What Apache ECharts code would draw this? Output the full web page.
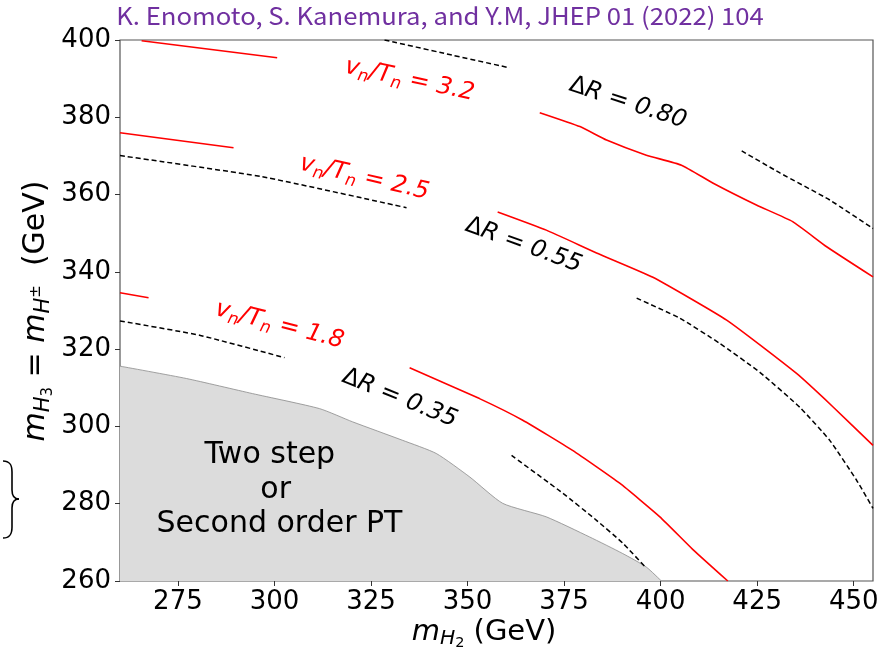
<!DOCTYPE html>
<html><head><meta charset="utf-8">
<script src="https://cdn.jsdelivr.net/npm/echarts@6/dist/echarts.min.js"></script>
<style>html,body{margin:0;padding:0;background:#fff}#c{width:884px;height:652px}</style>
</head><body><div id="c"></div><script>
// ---- data ----
const xTicks = [275, 300, 325, 350, 375, 400, 425, 450];
const yTicks = [260, 280, 300, 320, 340, 360, 380, 400];

// v_n/T_n contours (red, solid) - split by inline labels
const red32a = [[265.6, 399.8], [300.7, 395.4]];
const red32b = [[368.7, 381.2], [379.1, 377.6], [386.0, 374.1], [396.3, 370.2], [405.4, 367.6], [413.5, 363.0], [424.8, 357.3], [434.2, 353.0], [443.0, 346.5], [455, 338.7]];
const red25a = [[260, 376.0], [289.4, 372.1]];
const red25b = [[357.8, 355.5], [370.4, 350.8], [383.4, 344.9], [398.0, 338.6], [417.1, 327.5], [435.2, 313.7], [444.6, 305.1], [455, 295.1]];
const red18a = [[260, 334.6], [267.4, 333.3]];
const red18b = [[335.0, 315.2], [353.1, 307.2], [364.3, 301.6], [377.2, 293.8], [389.4, 285.3], [399.8, 276.6], [408.3, 268.2], [417.4, 260]];

// Delta R contours (black, dashed)
const dR80a = [[328.5, 400], [344.6, 396.4], [360.9, 392.8]];
const dR80b = [[421.0, 371.3], [430.9, 365.6], [443.8, 358.6], [455, 351.2]];
const dR55a = [[260, 370.1], [296.9, 364.6], [334.2, 356.6]];
const dR55b = [[393.8, 333.2], [405.0, 328.0], [415.3, 321.5], [425.7, 314.0], [436.1, 304.9], [443.8, 296.4], [450.8, 286.0], [455, 278.8]];
const dR35a = [[260, 327.3], [280.6, 323.6], [302.6, 317.8]];
const dR35b = [[361.4, 292.5], [374.7, 282.7], [383.4, 275.7], [390.2, 269.8], [396.3, 263.3]];

// Two-step / second-order region boundary
const grayRegion = [[260, 315.6], [277.2, 312.4], [294.3, 308.5], [311.7, 304.6], [320.2, 301.2], [333.2, 296.4], [341.9, 293.0], [350.6, 286.9], [359.1, 280.1], [370.4, 276.6], [381.6, 271.4], [390.2, 267.1], [396.3, 263.6], [400.2, 260]];

// label anchors (data coords) and angles (deg)
const labelVT = [
  {val: '3.2', at: [335.0, 389.6], ang: 12},
  {val: '2.5', at: [323.3, 364.3], ang: 13},
  {val: '1.8', at: [301.3, 326.2], ang: 14.5}
];
const labelDR = [
  {val: '0.80', at: [391.5, 383.7], ang: 18},
  {val: '0.55', at: [364.5, 346.9], ang: 20},
  {val: '0.35', at: [332.4, 307.3], ang: 22}
];
const regionText = [
  {t: 'Two step', at: [298.8, 292.5]},
  {t: 'or', at: [300.3, 283.5]},
  {t: 'Second order PT', at: [301.3, 274.8]}
];
const titleText = 'K. Enomoto, S. Kanemura, and Y.M, JHEP 01 (2022) 104';

// ---- chart ----
const FONT = '"DejaVu Sans", sans-serif';
const RED = '#ff0000';
function red(d) {
  return {type: 'line', data: d, showSymbol: false, silent: true, z: 5, smooth: 0.15,
    lineStyle: {color: RED, width: 1.6}};
}
function dash(d) {
  return {type: 'line', data: d, showSymbol: false, silent: true, z: 5, smooth: 0.15,
    lineStyle: {color: '#000', width: 1.5, type: [5, 3]}};
}

const chart = echarts.init(document.getElementById('c'), null, {renderer: 'canvas'});
chart.setOption({
  animation: false,
  backgroundColor: '#fff',
  grid: {left: 120, right: 11, top: 40, bottom: 71, show: true, borderColor: '#555', borderWidth: 1.2, backgroundColor: 'transparent'},
  xAxis: {
    type: 'value', min: 260, max: 455,
    axisLine: {show: false},
    splitLine: {show: false},
    axisTick: {show: true, length: 5, customValues: xTicks, lineStyle: {color: '#333', width: 1}},
    axisLabel: {customValues: xTicks, fontSize: 26, fontFamily: FONT, color: '#000', margin: 8}
  },
  yAxis: {
    type: 'value', min: 260, max: 400, interval: 20,
    axisLine: {show: false},
    splitLine: {show: false},
    axisTick: {show: true, length: 5, lineStyle: {color: '#333', width: 1}},
    axisLabel: {fontSize: 26, fontFamily: FONT, color: '#000', margin: 9}
  },
  series: [
    {type: 'line', data: grayRegion, showSymbol: false, silent: true, z: 1, smooth: 0.2,
      lineStyle: {color: '#8a8a8a', width: 0.8},
      areaStyle: {color: '#dcdcdc', opacity: 1, origin: 'start'}},
    red(red32a), red(red32b), red(red25a), red(red25b), red(red18a), red(red18b),
    dash(dR80a), dash(dR80b), dash(dR55a), dash(dR55b), dash(dR35a), dash(dR35b)
  ]
});

// ---- text helpers ----
const mctx = document.createElement('canvas').getContext('2d');
function measure(t, size, italic) {
  mctx.font = (italic ? 'italic ' : '') + size + 'px ' + FONT;
  return mctx.measureText(t).width;
}
// parts: {t, s(scale), dy(em), it}
function mathGroup(parts, cx, cy, F, rot, color) {
  let W = 0;
  parts.forEach(p => { p.size = F * (p.s || 1); p.w = measure(p.t, p.size, p.it); W += p.w; });
  let x = -W / 2;
  const children = parts.map(p => {
    const el = {type: 'text', x: x, y: (p.dy || 0) * F, silent: true,
      style: {text: p.t, fontSize: p.size, fontFamily: FONT, fontStyle: p.it ? 'italic' : 'normal',
        fill: color, textAlign: 'left', textVerticalAlign: 'middle'}};
    x += p.w;
    return el;
  });
  return {type: 'group', x: cx, y: cy, rotation: rot, children: children, z: 20};
}
function px(p) { return chart.convertToPixel({xAxisIndex: 0, yAxisIndex: 0}, p); }

const graphics = [];
labelVT.forEach(L => {
  const p = px(L.at);
  graphics.push(mathGroup([
    {t: 'v', it: true}, {t: 'n', it: true, s: 0.7, dy: 0.26},
    {t: '/T', it: true}, {t: 'n', it: true, s: 0.7, dy: 0.26},
    {t: ' = ' + L.val, it: true}
  ], p[0], p[1], 24, -L.ang * Math.PI / 180, RED));
});
labelDR.forEach(L => {
  const p = px(L.at);
  graphics.push(mathGroup([
    {t: 'Δ', it: false}, {t: 'R', it: true}, {t: ' = ' + L.val, it: true}
  ], p[0], p[1], 24, -L.ang * Math.PI / 180, '#000'));
});
regionText.forEach(R => {
  const p = px(R.at);
  graphics.push({type: 'text', x: p[0], y: p[1], silent: true, z: 20,
    style: {text: R.t, fontSize: 30, fontFamily: FONT, fill: '#000', textAlign: 'center', textVerticalAlign: 'middle'}});
});
// axis names
graphics.push(mathGroup([
  {t: 'm', it: true}, {t: 'H', it: true, s: 0.7, dy: 0.24}, {t: '2', s: 0.5, dy: 0.4},
  {t: ' (GeV)'}
], 484, 632, 29, 0, '#000'));
graphics.push(mathGroup([
  {t: 'm', it: true}, {t: 'H', it: true, s: 0.7, dy: 0.24}, {t: '3', s: 0.5, dy: 0.4},
  {t: ' = '},
  {t: 'm', it: true}, {t: 'H', it: true, s: 0.7, dy: 0.24}, {t: '±', s: 0.5, dy: 0.02},
  {t: '  (GeV)'}
], 36, 311, 30, Math.PI / 2, '#000'));
// title
graphics.push({type: 'text', x: 440, y: 16, scaleX: 1.07, silent: true, z: 20,
  style: {text: titleText, fontSize: 24, fontFamily: '"Noto Sans CJK JP", "Noto Sans", sans-serif',
    fill: '#7030a0', textAlign: 'center', textVerticalAlign: 'middle'}});
// brace decoration at left
const braceStyle = {stroke: '#000', lineWidth: 1.6, fill: null};
graphics.push({type: 'bezierCurve', silent: true, z: 20, style: braceStyle,
  shape: {x1: 3, y1: 461, x2: 12, y2: 472, cpx1: 10, cpy1: 461, cpx2: 12, cpy2: 465}});
graphics.push({type: 'line', silent: true, z: 20, style: braceStyle,
  shape: {x1: 12, y1: 472, x2: 12, y2: 490}});
graphics.push({type: 'bezierCurve', silent: true, z: 20, style: braceStyle,
  shape: {x1: 12, y1: 490, x2: 19, y2: 499, cpx1: 12, cpy1: 496, cpx2: 15, cpy2: 499}});
graphics.push({type: 'bezierCurve', silent: true, z: 20, style: braceStyle,
  shape: {x1: 19, y1: 499, x2: 12, y2: 508, cpx1: 15, cpy1: 499, cpx2: 12, cpy2: 502}});
graphics.push({type: 'line', silent: true, z: 20, style: braceStyle,
  shape: {x1: 12, y1: 508, x2: 12, y2: 527}});
graphics.push({type: 'bezierCurve', silent: true, z: 20, style: braceStyle,
  shape: {x1: 12, y1: 527, x2: 3, y2: 538, cpx1: 12, cpy1: 534, cpx2: 10, cpy2: 538}});

chart.setOption({graphic: graphics});
</script></body></html>
